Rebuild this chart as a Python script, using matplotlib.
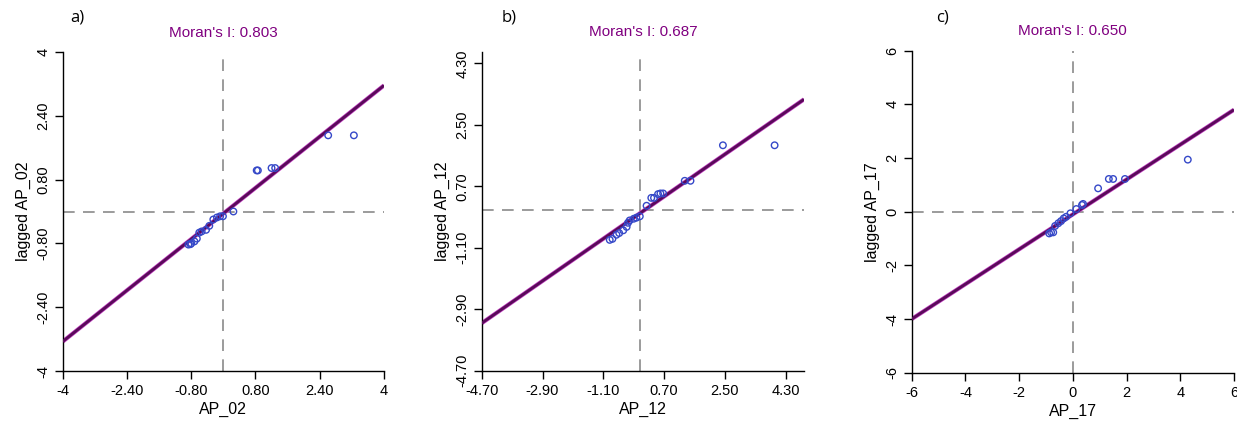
import numpy as np
import matplotlib.pyplot as plt

plt.rcParams['font.family'] = ['Liberation Sans', 'DejaVu Sans']

# Panel a) AP_02
a_x = [-0.87, -0.82, -0.80, -0.72, -0.66, -0.60, -0.54, -0.43, -0.35, -0.25, -0.16, -0.08, -0.01,
       0.25, 0.83, 0.86, 1.20, 1.29, 2.61, 3.25]
a_y = [-0.83, -0.82, -0.80, -0.75, -0.68, -0.53, -0.50, -0.46, -0.36, -0.20, -0.15, -0.12, -0.12,
       0.00, 1.03, 1.03, 1.09, 1.09, 1.91, 1.91]
a_ticks = [-4, -2.40, -0.80, 0.80, 2.40, 4]
a_ticklabels = ['-4', '-2.40', '-0.80', '0.80', '2.40', '4']

# Panel b) AP_12
b_x = [-0.91, -0.83, -0.71, -0.63, -0.51, -0.41, -0.37, -0.32, -0.20, -0.12, -0.02,
       0.18, 0.32, 0.40, 0.52, 0.59, 0.67, 1.31, 1.48, 2.44, 3.97]
b_y = [-0.87, -0.84, -0.72, -0.67, -0.59, -0.49, -0.37, -0.30, -0.25, -0.22, -0.18,
       0.13, 0.36, 0.36, 0.47, 0.49, 0.49, 0.86, 0.86, 1.90, 1.90]
b_ticks = [-4.70, -2.90, -1.10, 0.70, 2.50, 4.30]
b_ticklabels = ['-4.70', '-2.90', '-1.10', '0.70', '2.50', '4.30']

# Panel c) AP_17
c_x = [-0.88, -0.81, -0.73, -0.66, -0.54, -0.44, -0.34, -0.25, -0.09, 0.13,
       0.34, 0.38, 0.94, 1.34, 1.50, 1.94, 4.28]
c_y = [-0.81, -0.77, -0.77, -0.53, -0.43, -0.35, -0.25, -0.19, -0.06, 0.10,
       0.25, 0.29, 0.87, 1.22, 1.22, 1.22, 1.94]
c_ticks = [-6, -4, -2, 0, 2, 4, 6]
c_ticklabels = ['-6', '-4', '-2', '0', '2', '4', '6']

panels = [
    dict(tag='a)', name='AP_02', x=a_x, y=a_y, I=0.803, b=-0.05,
         ticks=a_ticks, labels=a_ticklabels, xlim=(-4, 4), ylim=(-4, 4),
         rect=[62.7, 52, 384, 371], tagpos=(70, 17)),
    dict(tag='b)', name='AP_12', x=b_x, y=b_y, I=0.687, b=-0.08,
         ticks=b_ticks, labels=b_ticklabels, xlim=(-4.70, 4.84), ylim=(-4.70, 4.64),
         rect=[481.7, 51.7, 804, 370.7], tagpos=(502, 17)),
    dict(tag='c)', name='AP_17', x=c_x, y=c_y, I=0.650, b=-0.10,
         ticks=c_ticks, labels=c_ticklabels, xlim=(-6, 6), ylim=(-6, 6),
         rect=[911.7, 50.7, 1234, 372.7], tagpos=(936, 17)),
]

W, H = 1237, 421
fig = plt.figure(figsize=(W / 100, H / 100), dpi=100)

for p in panels:
    l, t, r, bt = p['rect']
    ax = fig.add_axes([l / W, (H - bt) / H, (r - l) / W, (bt - t) / H])
    ax.set_xlim(*p['xlim'])
    ax.set_ylim(*p['ylim'])

    # reference lines at zero
    ax.axvline(0, color='#8a8a8a', lw=1.2, ls=(0, (7, 5)), zorder=1)
    ax.axhline(0, color='#8a8a8a', lw=1.2, ls=(0, (7, 5)), zorder=1)

    # regression line
    xs = np.array(p['xlim'])
    ax.plot(xs, p['I'] * xs + p['b'], color='#c040c0', lw=3.0, zorder=2, solid_capstyle='butt')
    ax.plot(xs, p['I'] * xs + p['b'], color='#5a0a5a', lw=2.0, zorder=3, solid_capstyle='butt')

    ax.scatter(p['x'], p['y'], s=22, facecolors='none', edgecolors='#3548c8',
               linewidths=1.0, zorder=4, clip_on=False)

    ax.set_xticks(p['ticks'])
    ax.set_xticklabels(p['labels'])
    ax.set_yticks(p['ticks'])
    ax.set_yticklabels(p['labels'], rotation=90, va='center')
    ax.tick_params(direction='out', length=6, width=1, labelsize=10.5, colors='black')
    ax.tick_params(axis='y', pad=3)
    for s in ['top', 'right']:
        ax.spines[s].set_visible(False)
    for s in ['left', 'bottom']:
        ax.spines[s].set_linewidth(1.0)

    ax.set_xlabel(p['name'], fontsize=11.5, labelpad=2.5)
    ax.set_ylabel('lagged ' + p['name'], fontsize=11.5, labelpad=4)
    ax.set_title("Moran's I: %.3f" % p['I'], color='#800080', fontsize=11, pad=11)

    fig.text(p['tagpos'][0] / W, 1 - p['tagpos'][1] / H, p['tag'], fontsize=12,
             va='center', ha='left', family=['Open Sans', 'DejaVu Sans'])

fig.savefig('out.png', dpi=100)
